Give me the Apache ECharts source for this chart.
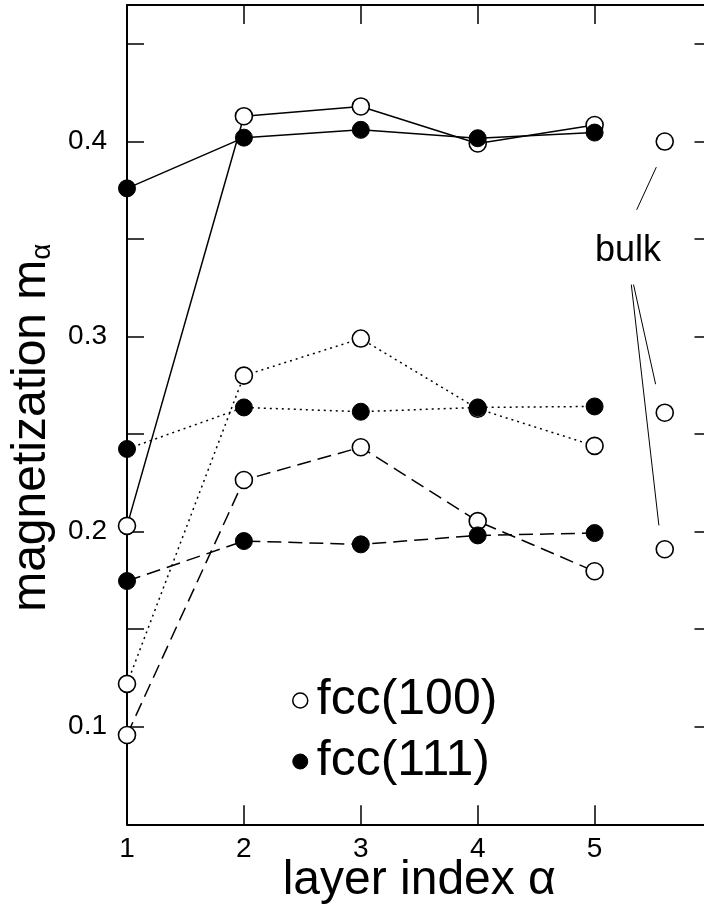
<!DOCTYPE html>
<html>
<head>
<meta charset="utf-8">
<script src="https://cdn.jsdelivr.net/npm/echarts@6/dist/echarts.min.js"></script>
<style>
html,body{margin:0;padding:0;background:#fff;}
#chart{width:704px;height:911px;}
</style>
</head>
<body>
<div id="chart"></div>
<script>
// ---- data ----
const layers = [1, 2, 3, 4, 5];
const fcc100Solid  = [0.203, 0.413, 0.418, 0.399, 0.4085];
const fcc111Solid  = [0.376, 0.402, 0.406, 0.4017, 0.4046];
const fcc100Dotted = [0.122, 0.280, 0.299, 0.263, 0.244];
const fcc111Dotted = [0.2424, 0.2637, 0.2615, 0.2637, 0.2642];
const fcc100Dashed = [0.0958, 0.2265, 0.2433, 0.2054, 0.1797];
const fcc111Dashed = [0.1747, 0.1952, 0.1935, 0.1981, 0.1993];
const bulkX = 5.6;
const bulkValues = [0.400, 0.261, 0.191];
const bulkLabel = { text: 'bulk', x: 5.285, y: 0.3440 };
const bulkPointers = [
  [[5.36, 0.365], [5.528, 0.3869]],
  [[5.333, 0.3267], [5.522, 0.2756]],
  [[5.314, 0.3267], [5.55, 0.2032]]
];
const legendNames = ['fcc(100)', 'fcc(111)'];
const yLabelValues = [0.1, 0.2, 0.3, 0.4];
const xLabelValues = [1, 2, 3, 4, 5];

const FONT = 'Liberation Sans, Arial, Helvetica, sans-serif';
const pairs = v => layers.map((x, i) => [x, v[i]]);

const openStyle = { color: '#fff', borderColor: '#000', borderWidth: 1.6, opacity: 1 };
const fillStyle = { color: '#000', borderColor: '#000', borderWidth: 1, opacity: 1 };
const DOT = [2, 4];
const DASH = [14, 7];

function mk(name, data, filled, dash) {
  return {
    type: 'line', name: name, data: pairs(data),
    symbol: 'circle', symbolSize: 17, showSymbol: true,
    itemStyle: filled ? fillStyle : openStyle,
    lineStyle: { color: '#000', width: 1.5, type: dash },
    z: filled ? 3 : 2, silent: true
  };
}

const chart = echarts.init(document.getElementById('chart'));
chart.setOption({
  animation: false,
  backgroundColor: '#fff',
  textStyle: { fontFamily: FONT },
  grid: { left: 127, top: 5, width: 584.5, height: 819.3, containLabel: false, outerBoundsMode: 'none' },
  legend: {
    orient: 'vertical', left: 287, top: 670,
    itemWidth: 15, itemHeight: 15, itemGap: 10,
    selectedMode: false,
    textStyle: { fontSize: 50, color: '#000', fontFamily: FONT, lineHeight: 51, padding: [0, 0, 0, 4] },
    data: [
      { name: legendNames[0], icon: 'circle', itemStyle: { color: '#fff', borderColor: '#000', borderWidth: 1.5 } },
      { name: legendNames[1], icon: 'circle', itemStyle: { color: '#000', borderColor: '#000', borderWidth: 1 } }
    ]
  },
  xAxis: [{
    type: 'value', min: 1, max: 6, interval: 1, position: 'bottom',
    name: 'layer index α', nameLocation: 'middle', nameGap: 32, nameMoveOverlap: false,
    nameTextStyle: { fontSize: 48, color: '#000', fontFamily: FONT },
    axisLine: { show: true, lineStyle: { color: '#000', width: 2 } },
    axisTick: { show: true, inside: true, length: 19, lineStyle: { color: '#000', width: 1.5 } },
    axisLabel: { fontSize: 28, color: '#000', margin: 11, fontFamily: FONT,
      formatter: v => xLabelValues.indexOf(Math.round(v)) >= 0 && Math.abs(v - Math.round(v)) < 1e-6 ? String(Math.round(v)) : '' },
    splitLine: { show: false }
  }, {
    type: 'value', min: 1, max: 6, interval: 1, position: 'top',
    axisLine: { show: true, lineStyle: { color: '#000', width: 2 } },
    axisTick: { show: true, inside: true, length: 19, lineStyle: { color: '#000', width: 1.5 } },
    axisLabel: { show: false }, splitLine: { show: false }
  }],
  yAxis: [{
    type: 'value', min: 0.05, max: 0.47, interval: 0.05, position: 'left',
    name: 'magnetization m{sub|α}', nameLocation: 'middle', nameGap: 71, nameMoveOverlap: false,
    nameTextStyle: { fontSize: 48, color: '#000', fontFamily: FONT, padding: [0, 26, 0, 0],
      rich: { sub: { fontSize: 28, color: '#000', fontFamily: FONT, verticalAlign: 'bottom', padding: [14, 0, 0, 0] } } },
    axisLine: { show: true, lineStyle: { color: '#000', width: 2 } },
    axisTick: { show: true, inside: true, length: 17, lineStyle: { color: '#000', width: 1.5 } },
    axisLabel: { fontSize: 28, color: '#000', margin: 20, fontFamily: FONT,
      formatter: v => { const k = Math.round(v * 100); const hit = yLabelValues.find(t => Math.round(t * 100) === k); return hit !== undefined ? hit.toFixed(1) : ''; } },
    splitLine: { show: false }
  }, {
    type: 'value', min: 0.05, max: 0.47, interval: 0.05, position: 'right',
    axisLine: { show: true, lineStyle: { color: '#000', width: 2 } },
    axisTick: { show: true, inside: true, length: 17, lineStyle: { color: '#000', width: 1.5 } },
    axisLabel: { show: false }, splitLine: { show: false }
  }],
  series: [
    mk(legendNames[0], fcc100Solid, false, 'solid'),
    mk(legendNames[0], fcc100Dotted, false, DOT),
    mk(legendNames[0], fcc100Dashed, false, DASH),
    mk(legendNames[1], fcc111Solid, true, 'solid'),
    mk(legendNames[1], fcc111Dotted, true, DOT),
    mk(legendNames[1], fcc111Dashed, true, DASH),
    {
      type: 'scatter', name: 'bulk', symbol: 'circle', symbolSize: 17,
      itemStyle: openStyle, silent: true, z: 2,
      data: bulkValues.map(v => [bulkX, v])
    },
    {
      type: 'lines', name: 'bulk pointers', coordinateSystem: 'cartesian2d', silent: true,
      lineStyle: { color: '#000', width: 1, opacity: 1, curveness: 0 },
      data: bulkPointers.map(c => ({ coords: c }))
    },
    {
      type: 'scatter', name: 'bulk label', symbolSize: 1, silent: true,
      itemStyle: { color: 'rgba(0,0,0,0)', opacity: 1 },
      label: { show: true, position: 'inside', formatter: bulkLabel.text, fontSize: 36, color: '#000', opacity: 1, fontFamily: FONT },
      data: [[bulkLabel.x, bulkLabel.y]]
    }
  ]
});
</script>
</body>
</html>
